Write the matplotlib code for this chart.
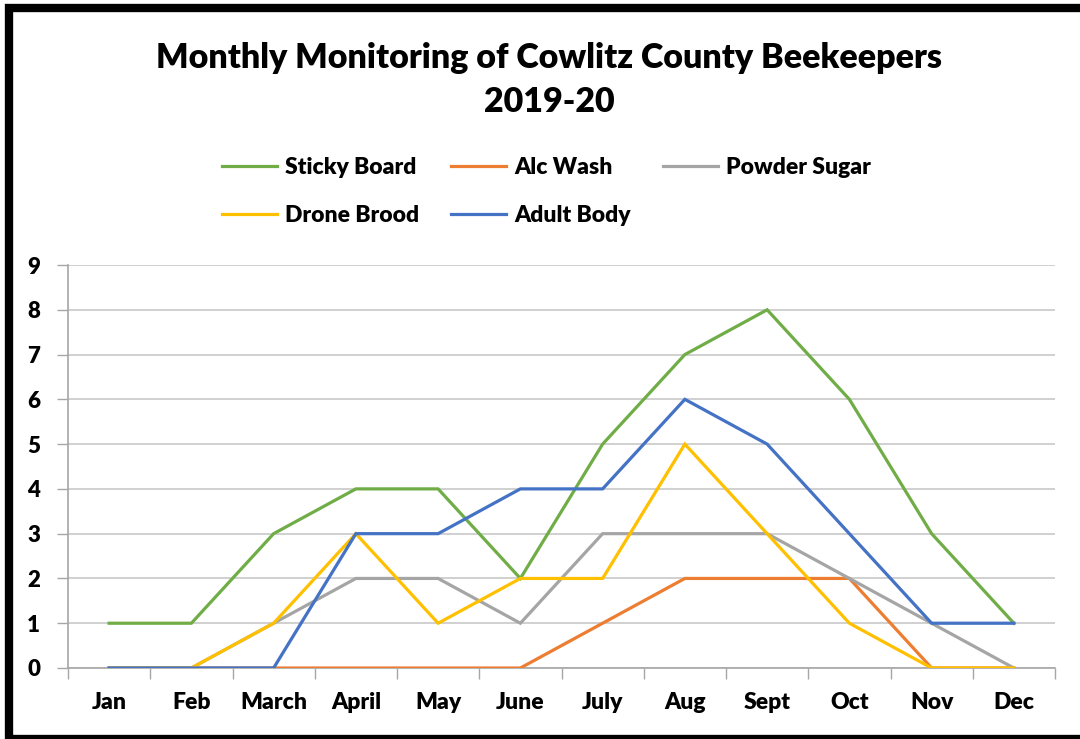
import matplotlib
matplotlib.use("Agg")
import matplotlib.pyplot as plt
from matplotlib.patches import Rectangle

months = ["Jan", "Feb", "March", "April", "May", "June",
          "July", "Aug", "Sept", "Oct", "Nov", "Dec"]
sticky_board = [1, 1, 3, 4, 4, 2, 5, 7, 8, 6, 3, 1]
alc_wash = [0, 0, 0, 0, 0, 0, 1, 2, 2, 2, 0, 0]
powder_sugar = [0, 0, 1, 2, 2, 1, 3, 3, 3, 2, 1, 0]
drone_brood = [0, 0, 1, 3, 1, 2, 2, 5, 3, 1, 0, 0]
adult_body = [0, 0, 0, 3, 3, 4, 4, 6, 5, 3, 1, 1]
y_ticks = list(range(0, 10))

series = [
    ("Sticky Board", sticky_board, "#70AD47"),
    ("Alc Wash", alc_wash, "#ED7D31"),
    ("Powder Sugar", powder_sugar, "#A5A5A5"),
    ("Drone Brood", drone_brood, "#FFC000"),
    ("Adult Body", adult_body, "#4472C4"),
]

plt.rcParams["font.family"] = ["Lato", "DejaVu Sans"]
plt.rcParams["font.weight"] = "heavy"
WEIGHT = "heavy"

W, H = 1080, 739
fig = plt.figure(figsize=(W / 100, H / 100), dpi=100)
fig.patch.set_facecolor("white")

ax = fig.add_axes([68 / W, 1 - 668 / H, (1055 - 68) / W, (668 - 265) / H])

x = list(range(len(months)))
lines = {}
for name, vals, col in series:
    (ln,) = ax.plot(x, vals, color=col, lw=2.3, label=name,
                    solid_joinstyle="miter", zorder=3)
    lines[name] = ln

ax.set_xlim(-0.5, len(months) - 0.5)
ax.set_ylim(0, 9)
ax.set_yticks(y_ticks)
ax.set_yticklabels([str(v) for v in y_ticks], fontsize=16, fontweight=WEIGHT)
ax.set_xticks([i + 0.5 for i in range(-1, len(months))], minor=False)
ax.set_xticklabels([])
ax.set_xticks(x, minor=True)
ax.set_xticklabels(months, minor=True, fontsize=16.5, fontweight=WEIGHT)
ax.tick_params(axis="x", which="major", length=8, color="#A6A6A6", width=1)
ax.tick_params(axis="x", which="minor", length=0, pad=17)
ax.tick_params(axis="y", length=8, color="#A6A6A6", width=1, pad=12)

ax.grid(axis="y", color="#C8C8C8", lw=1.2, zorder=0)
for s in ("top", "right"):
    ax.spines[s].set_visible(False)
for s in ("left", "bottom"):
    ax.spines[s].set_color("#A6A6A6")
    ax.spines[s].set_linewidth(1.2)

fig.text(549 / W, 1 - 58 / H, "Monthly Monitoring of Cowlitz County Beekeepers",
         ha="center", va="center", fontsize=24.5, fontweight=WEIGHT)
fig.text(549 / W, 1 - 102 / H, "2019-20",
         ha="center", va="center", fontsize=24.5, fontweight=WEIGHT)

# legend entries laid out row by row (3 columns)
order = ["Sticky Board", "Drone Brood", "Alc Wash", "Adult Body", "Powder Sugar"]
leg = fig.legend(handles=[lines[n] for n in order], ncol=3, loc="upper left",
                 bbox_to_anchor=(222 / W, 1 - 157 / H), frameon=False,
                 fontsize=16.5, handlelength=2.4, handletextpad=0.35,
                 columnspacing=1.4, labelspacing=1.2, borderaxespad=0,
                 borderpad=0)
for t in leg.get_texts():
    t.set_fontweight(WEIGHT)

# picture frame
fig.patches.append(Rectangle((9 / W, 0), 1.1, 1 - 8 / H, transform=fig.transFigure,
                             fill=False, edgecolor="black", lw=6, zorder=10))

fig.savefig("out.png", dpi=100)
